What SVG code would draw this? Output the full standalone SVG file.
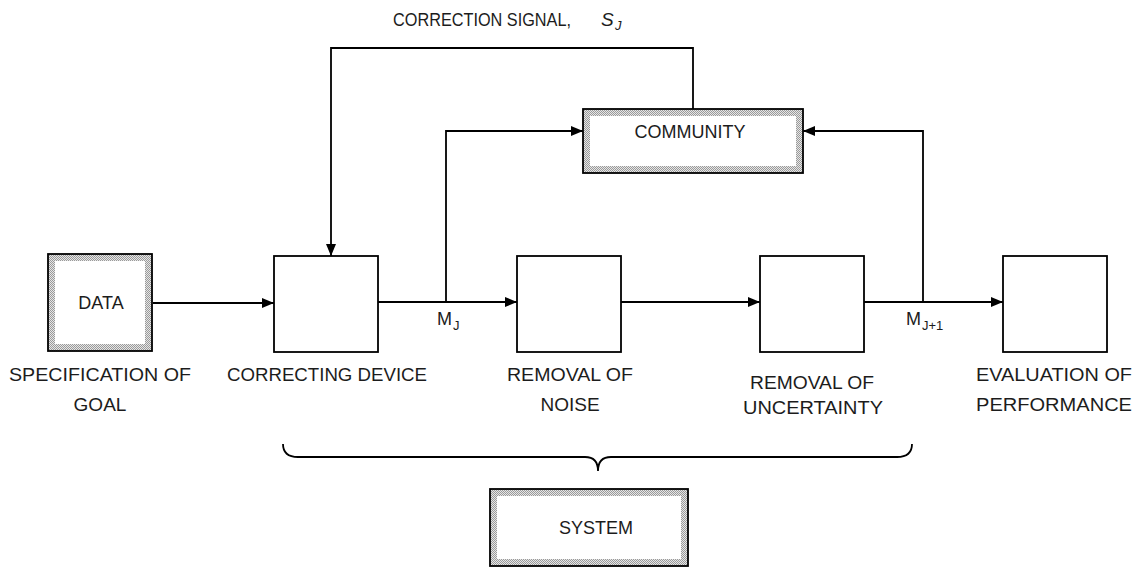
<svg xmlns="http://www.w3.org/2000/svg" width="1138" height="567" viewBox="0 0 1138 567">
  <style>
    text { font-family: "Liberation Sans", Arial, sans-serif; font-size: 18px; fill: #1c1c1c; }
    .mid { text-anchor: middle; }
    .lbl { font-size: 19px; }
    .sub { font-size: 13px; }
    .box { fill: #fff; stroke: #000; stroke-width: 1.8; }
    .frame { fill: url(#stipple); stroke: #000; stroke-width: 1.8; }
    .inner { fill: #fff; }
    .wire { fill: none; stroke: #000; stroke-width: 1.8; }
  </style>
  <defs>
    <!-- fine grey dot screen used for the shadowed frames -->
    <pattern id="stipple" width="2" height="2" patternUnits="userSpaceOnUse">
      <rect width="2" height="2" fill="#e6e6e6"/>
      <rect width="1" height="1" fill="#9a9a9a"/>
      <rect x="1" y="1" width="1" height="1" fill="#9a9a9a"/>
    </pattern>
    <marker id="arrow" viewBox="0 0 12 10" refX="12" refY="5" markerWidth="12" markerHeight="10" markerUnits="userSpaceOnUse" orient="auto">
      <path d="M0,0 L12,5 L0,10 Z" fill="#000"/>
    </marker>
  </defs>

  <!-- caption over the feedback loop -->
  <g id="caption">
    <text class="lbl" x="393" y="26" textLength="178" lengthAdjust="spacingAndGlyphs">CORRECTION SIGNAL,</text>
    <text class="lbl" x="601" y="26" font-style="italic">S</text>
    <text class="sub" x="615" y="30" font-style="italic">J</text>
  </g>

  <!-- connectors -->
  <g id="connectors">
    <polyline class="wire" points="693,109 693,48 331,48 331,256" marker-end="url(#arrow)"/>
    <line class="wire" x1="153" y1="303" x2="274" y2="303" marker-end="url(#arrow)"/>
    <line class="wire" x1="378" y1="302" x2="517" y2="302" marker-end="url(#arrow)"/>
    <polyline class="wire" points="446,302 446,131 583,131" marker-end="url(#arrow)"/>
    <line class="wire" x1="621" y1="302" x2="760" y2="302" marker-end="url(#arrow)"/>
    <line class="wire" x1="864" y1="302" x2="1003" y2="302" marker-end="url(#arrow)"/>
    <polyline class="wire" points="923,302 923,131 803,131" marker-end="url(#arrow)"/>
  </g>

  <!-- signal labels on the main line -->
  <g id="signal-labels">
    <text x="437" y="325" font-size="19">M</text>
    <text class="sub" x="453" y="330">J</text>
    <text x="906" y="325" font-size="19">M</text>
    <text class="sub" x="922" y="330">J+1</text>
  </g>

  <g id="node-data">
    <rect class="frame" x="48" y="254" width="104" height="97"/>
    <rect class="inner" x="55" y="261" width="90" height="83"/>
    <text class="mid" x="101" y="309" font-size="19">DATA</text>
    <text class="mid lbl" x="100" y="381" textLength="182" lengthAdjust="spacingAndGlyphs">SPECIFICATION OF</text>
    <text class="mid lbl" x="100" y="411">GOAL</text>
  </g>

  <g id="node-correcting-device">
    <rect class="box" x="274" y="256" width="104" height="96"/>
    <text class="mid lbl" x="327" y="381" textLength="200" lengthAdjust="spacingAndGlyphs">CORRECTING DEVICE</text>
  </g>

  <g id="node-removal-of-noise">
    <rect class="box" x="517" y="256" width="104" height="96"/>
    <text class="mid lbl" x="570" y="381" textLength="126" lengthAdjust="spacingAndGlyphs">REMOVAL OF</text>
    <text class="mid lbl" x="570" y="411">NOISE</text>
  </g>

  <g id="node-removal-of-uncertainty">
    <rect class="box" x="760" y="256" width="104" height="96"/>
    <text class="mid lbl" x="812" y="389" textLength="124" lengthAdjust="spacingAndGlyphs">REMOVAL OF</text>
    <text class="mid lbl" x="813" y="414" textLength="140" lengthAdjust="spacingAndGlyphs">UNCERTAINTY</text>
  </g>

  <g id="node-evaluation-of-performance">
    <rect class="box" x="1003" y="256" width="104" height="96"/>
    <text class="mid lbl" x="1054" y="381" textLength="156" lengthAdjust="spacingAndGlyphs">EVALUATION OF</text>
    <text class="mid lbl" x="1054" y="411" textLength="156" lengthAdjust="spacingAndGlyphs">PERFORMANCE</text>
  </g>

  <g id="node-community">
    <rect class="frame" x="583" y="109" width="220" height="64"/>
    <rect class="inner" x="590" y="116" width="206" height="50"/>
    <text class="mid" x="690" y="138">COMMUNITY</text>
  </g>

  <!-- brace grouping the three inner stages -->
  <g id="brace">
    <path class="wire" d="M283,444 Q283,457 298,457 L585,457 Q598,457 598,471 Q598,457 611,457 L897,457 Q912,457 912,444"/>
  </g>

  <g id="node-system">
    <rect class="frame" x="490" y="489" width="198" height="77"/>
    <rect class="inner" x="497" y="496" width="184" height="63"/>
    <text class="mid" x="596" y="534">SYSTEM</text>
  </g>
</svg>
